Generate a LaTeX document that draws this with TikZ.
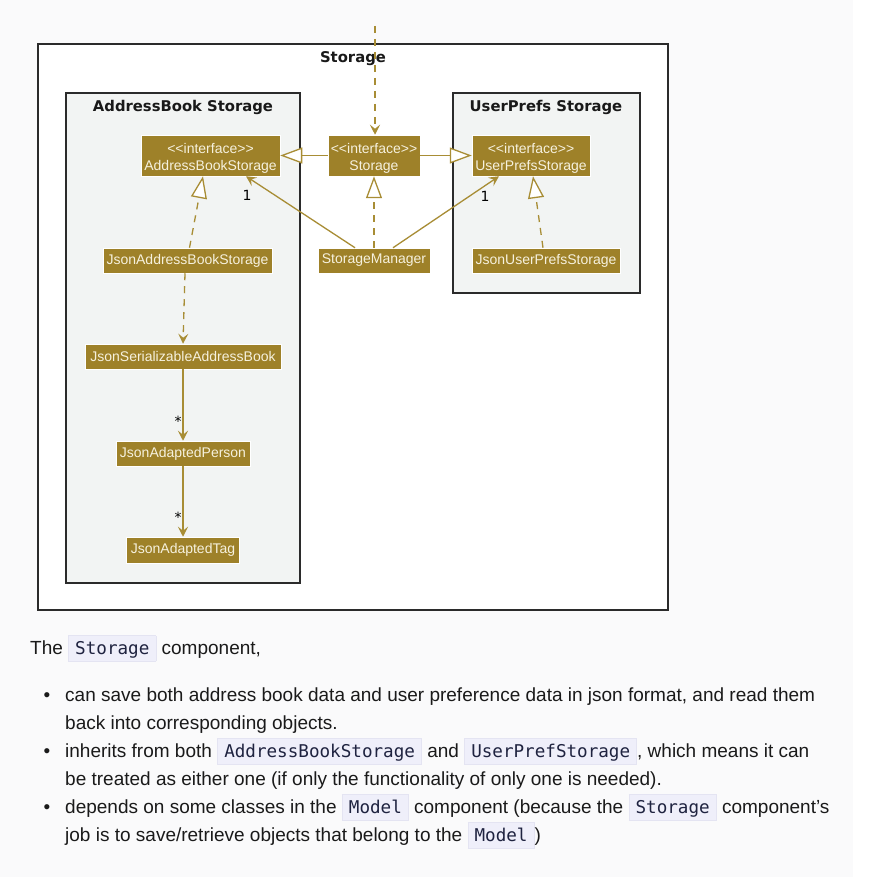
\documentclass[tikz,border=0pt]{standalone}
\usepackage{fontspec}
\setmainfont{Liberation Sans}
\newfontfamily\titlefont{DejaVu Sans}
\newfontfamily\umlfont{Liberation Sans}
\newfontfamily\monofont{DejaVu Sans Mono}
\usetikzlibrary{arrows.meta}

\definecolor{nodefill}{HTML}{9E8129}
\definecolor{nodetext}{HTML}{F6F1DE}
\definecolor{edgecol}{HTML}{A88D35}
\definecolor{pkgfill}{HTML}{F2F4F3}
\definecolor{boxline}{HTML}{2B2B2B}
\definecolor{pagebg}{HTML}{FAFAFB}
\definecolor{codebg}{HTML}{EFEFFA}
\definecolor{codeline}{HTML}{E4E4F2}
\definecolor{bodytext}{HTML}{1A1A1A}
\definecolor{codetext}{HTML}{1F2340}

% inline code span with a tinted box
\newcommand{\inlinecode}[1]{{\setlength{\fboxsep}{0pt}\setlength{\fboxrule}{0.8pt}%
  \fcolorbox{codeline}{codebg}{\rule[-7pt]{0pt}{25pt}\hspace{6.2pt}\color{codetext}\monofont\fontsize{17.6}{20}\selectfont #1\hspace{6.2pt}}}}

\tikzset{
  uml/.style={rectangle, fill=nodefill, draw=white, line width=0.5pt, text=nodetext,
    font=\umlfont\fontsize{14}{17}\selectfont, inner sep=0pt, align=center},
  pkg/.style={draw=boxline, line width=1.8pt, fill=pkgfill},
  pkgtitle/.style={font=\titlefont\bfseries\fontsize{14.8}{17}\selectfont, text=black!90, inner sep=0pt},
  link/.style={draw=edgecol, line width=1.3pt},
  dep/.style={link, dash pattern=on 7pt off 6pt},
  nav/.style={-{Stealth[length=10pt,width=10pt,inset=4pt]}},
  gen/.style={-{Triangle[length=22pt,width=16pt,fill=white]}},
  mult/.style={font=\titlefont\fontsize{14}{15}\selectfont, text=black, inner sep=0pt},
  body/.style={anchor=base west, inner sep=0pt, text=bodytext, font=\fontsize{19}{22}\selectfont},
  dot/.style={anchor=base, inner sep=0pt, text=bodytext, font=\fontsize{19}{22}\selectfont}
}

\begin{document}
\begin{tikzpicture}[x=1pt, y=-1pt]
\useasboundingbox (0,0) rectangle (879,877);
\fill[pagebg] (0,0) rectangle (853,877);
\fill[white] (853,0) rectangle (879,877);

% packages
\draw[draw=boxline, line width=1.8pt, fill=white] (38,44) rectangle (668,610);
\node[pkgtitle] (tstorage) at (353,59) {Storage};
\draw[pkg] (66,93) rectangle (300,583);
\node[pkgtitle] (tabs) at (183,107) {AddressBook Storage};
\draw[pkg] (453,93) rectangle (640,293);
\node[pkgtitle] (tups) at (546,107) {UserPrefs Storage};

% classes
\node[uml, minimum width=139pt, minimum height=41pt] (abs) at (210.5,155.5) {\rule{0pt}{15pt}<<interface>>\\AddressBookStorage};
\node[uml, minimum width=92pt, minimum height=41pt] (stor) at (374,155.5) {\rule{0pt}{15pt}<<interface>>\\Storage};
\node[uml, minimum width=118pt, minimum height=41pt] (ups) at (531,155.5) {\rule{0pt}{15pt}<<interface>>\\UserPrefsStorage};
\node[uml, minimum width=169pt, minimum height=25pt] (jabs) at (187.5,260.5) {JsonAddressBookStorage};
\node[uml, minimum width=112pt, minimum height=25pt] (sm) at (374,260.5) {StorageManager};
\node[uml, minimum width=148pt, minimum height=25pt] (jups) at (546,260.5) {JsonUserPrefsStorage};
\node[uml, minimum width=196pt, minimum height=25pt] (jsab) at (183,356.5) {JsonSerializableAddressBook};
\node[uml, minimum width=134pt, minimum height=25pt] (jap) at (183,453.5) {JsonAdaptedPerson};
\node[uml, minimum width=113pt, minimum height=26pt] (jat) at (183,550) {JsonAdaptedTag};

% incoming dependency from outside
\coordinate (ext) at (375,26);
\draw[dep, nav] (ext) -- ([xshift=1pt]stor.north);

% generalisations
\draw[link, gen] (stor.west) -- (abs.east);
\draw[link, gen] (stor.east) -- (ups.west);
\draw[dep, gen] (sm.north) -- (stor.south);
\draw[dep, gen] ([xshift=2pt]jabs.north) -- ([xshift=-7.5pt]abs.south);
\draw[dep, gen] ([xshift=-3pt]jups.north) -- ([xshift=2pt]ups.south);

% associations
\draw[link, nav] ([xshift=-19pt]sm.north) -- ([xshift=35.5pt]abs.south);
\draw[link, nav] ([xshift=19pt]sm.north) -- ([xshift=-32pt]ups.south);
\node[mult] (m1) at (247,195) {1};
\node[mult] (m2) at (485,196) {1};

\draw[dep, nav] ([xshift=-2.5pt]jabs.south) -- (jsab.north);
\draw[link, nav] (jsab.south) -- (jap.north);
\draw[link, nav] (jap.south) -- (jat.north);
\node[mult] (m3) at (178,421) {*};
\node[mult] (m4) at (178,517) {*};

% description text
\node[body] (intro) at (30,654) {The \inlinecode{Storage} component,};
\node[dot] (d1) at (47,701) {\textbullet};
\node[body] (b1a) at (65,701) {can save both address book data and user preference data in json format, and read them};
\node[body] (b1b) at (65,729) {back into corresponding objects.};
\node[dot] (d2) at (47,757) {\textbullet};
\node[body] (b2a) at (65,757) {inherits from both \inlinecode{AddressBookStorage} and \inlinecode{UserPrefStorage}, which means it can};
\node[body] (b2b) at (65,785) {be treated as either one (if only the functionality of only one is needed).};
\node[dot] (d3) at (47,813) {\textbullet};
\node[body] (b3a) at (65,813) {depends on some classes in the \inlinecode{Model} component (because the \inlinecode{Storage} component’s};
\node[body] (b3b) at (65,841) {job is to save/retrieve objects that belong to the \inlinecode{Model})};
\end{tikzpicture}
\end{document}
